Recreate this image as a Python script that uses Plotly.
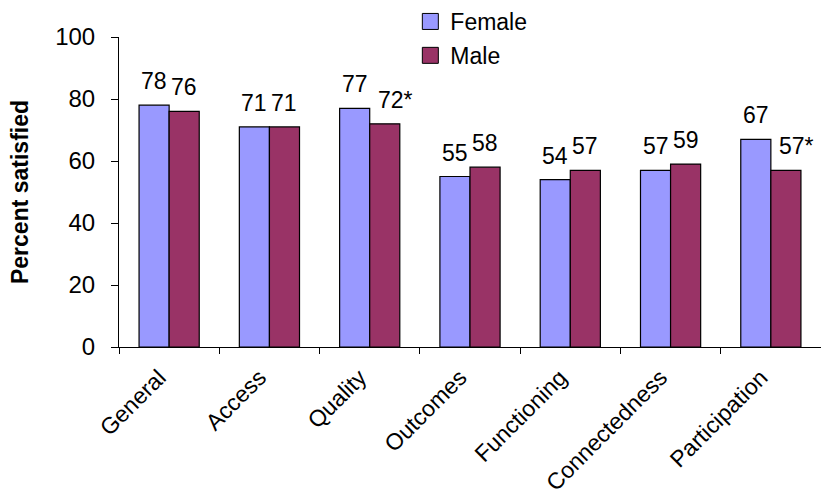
import plotly.graph_objects as go

# Satisfaction by domain, split by sex
categories = ["General", "Access", "Quality", "Outcomes", "Functioning",
              "Connectedness", "Participation"]
female = [78, 71, 77, 55, 54, 57, 67]
male = [76, 71, 72, 58, 57, 59, 57]
# significant sex difference (marked with an asterisk on the male value)
male_sig = [False, False, True, False, False, False, True]

y_ticks = [0, 20, 40, 60, 80, 100]

FEMALE_COLOR = "#9999FF"
MALE_COLOR = "#993366"
FONT = "Arial, Liberation Sans, sans-serif"

fig = go.Figure()

fig.add_trace(go.Bar(
    x=categories, y=female, name="Female",
    marker=dict(color=FEMALE_COLOR, line=dict(color="black", width=1.2)),
    showlegend=False,
))
fig.add_trace(go.Bar(
    x=categories, y=male, name="Male",
    marker=dict(color=MALE_COLOR, line=dict(color="black", width=1.2)),
    showlegend=False,
))

# legend entries with larger square swatches
for name, color in [("Female", FEMALE_COLOR), ("Male", MALE_COLOR)]:
    fig.add_trace(go.Scatter(
        x=[None], y=[None], mode="markers", name=name, legendgroup=name,
        marker=dict(symbol="square", size=16, color=color,
                    line=dict(color="black", width=1)),
    ))

# value labels above the bars
annotations = []
for cat, v in zip(categories, female):
    annotations.append(dict(x=cat, y=v, text=str(v), xshift=-15, yshift=9,
                            showarrow=False, yanchor="bottom",
                            font=dict(size=23, color="black", family=FONT)))
for cat, v, sig in zip(categories, male, male_sig):
    annotations.append(dict(x=cat, y=v, text=f"{v}*" if sig else str(v),
                            xshift=26 if sig else 15, yshift=9,
                            showarrow=False, yanchor="bottom",
                            font=dict(size=23, color="black", family=FONT)))

fig.update_layout(
    width=821, height=496,
    margin=dict(l=119, r=0, t=37, b=149),
    paper_bgcolor="white", plot_bgcolor="white",
    font=dict(family=FONT, color="black"),
    barmode="group", bargap=0.4, bargroupgap=0,
    annotations=annotations,
    legend=dict(x=0.415, y=1.12, xanchor="left", yanchor="top",
                font=dict(size=23), tracegroupgap=1, bgcolor="rgba(0,0,0,0)"),
    xaxis=dict(
        type="category", tickangle=-45, tickfont=dict(size=23),
        showline=True, linecolor="black", linewidth=1,
        ticks="outside", ticklen=6, tickcolor="black", tickson="boundaries",
        ticklabelshift=-10, ticklabelstandoff=7, automargin=False,
        showgrid=False, zeroline=False,
    ),
    yaxis=dict(
        range=[0, 100], tickvals=y_ticks, tickfont=dict(size=24),
        showline=True, linecolor="black", linewidth=1,
        ticks="outside", ticklen=7, tickcolor="black", automargin=False,
        showgrid=False, zeroline=False, ticklabelstandoff=11,
        title=dict(text="<b>Percent satisfied</b>", font=dict(size=23),
                   standoff=20),
    ),
)

fig.write_html("out.html")
